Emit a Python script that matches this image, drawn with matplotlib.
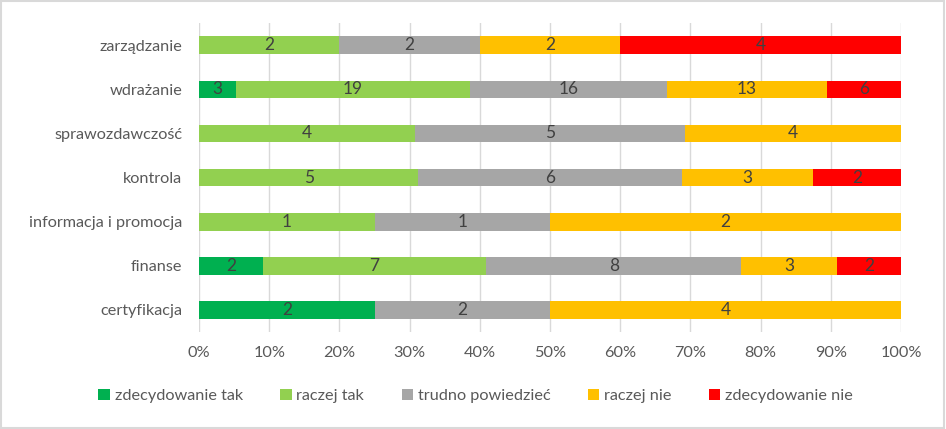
import matplotlib
matplotlib.use("Agg")
import matplotlib.pyplot as plt
import numpy as np
from matplotlib.patches import Rectangle

plt.rcParams['font.family'] = ['Lato', 'DejaVu Sans']

categories = ["zarządzanie", "wdrażanie", "sprawozdawczość", "kontrola",
              "informacja i promocja", "finanse", "certyfikacja"]
series = ["zdecydowanie tak", "raczej tak", "trudno powiedzieć", "raczej nie", "zdecydowanie nie"]
zdecydowanie_tak = [0, 3, 0, 0, 0, 2, 2]
raczej_tak = [2, 19, 4, 5, 1, 7, 0]
trudno = [2, 16, 5, 6, 1, 8, 2]
raczej_nie = [2, 13, 4, 3, 2, 3, 4]
zdecydowanie_nie = [4, 6, 0, 2, 0, 2, 0]
colors = ["#00B050", "#92D050", "#A6A6A6", "#FFC000", "#FF0000"]

counts = np.array([zdecydowanie_tak, raczej_tak, trudno, raczej_nie, zdecydowanie_nie], dtype=float)
shares = counts / counts.sum(axis=0)

fs = 11.7
fig = plt.figure(figsize=(9.46, 4.29), dpi=100)
ax = fig.add_axes([0.2104, 0.226, 0.742, 0.72])

ypos = np.arange(len(categories))[::-1]
left = np.zeros(len(categories))
for i, name in enumerate(series):
    ax.barh(ypos, shares[i], left=left, height=0.4, color=colors[i], label=name, zorder=2)
    for j in range(len(categories)):
        if counts[i, j] > 0:
            ax.text(left[j] + shares[i, j] / 2, ypos[j], f"{int(counts[i, j])}",
                    ha='center', va='center', fontsize=12.5, color='#404040', zorder=3)
    left += shares[i]

ax.set_xlim(0, 1)
ax.set_ylim(-0.5, len(categories) - 0.5)
ax.set_xticks(np.arange(0, 1.01, 0.1))
ax.set_xticklabels([f"{int(round(t * 100))}%" for t in np.arange(0, 1.01, 0.1)])
ax.set_yticks(ypos)
ax.set_yticklabels(categories)
ax.tick_params(length=0, labelsize=fs, labelcolor='#595959', pad=10)
ax.tick_params(axis='y', pad=12)
ax.xaxis.grid(True, color='#D9D9D9', linewidth=1, zorder=0)
for s in ax.spines.values():
    s.set_visible(False)

fig.legend(loc='center', bbox_to_anchor=(0.503, 0.077), ncol=5, frameon=False,
           fontsize=fs, labelcolor='#595959', handlelength=0.7, handleheight=0.7,
           handletextpad=0.3, columnspacing=2.3)

fig.patches.append(Rectangle((0.001, 0.002), 0.997, 0.995, transform=fig.transFigure,
                             fill=False, edgecolor='#D9D9D9', linewidth=1.5))

fig.savefig("out.png", dpi=100)
